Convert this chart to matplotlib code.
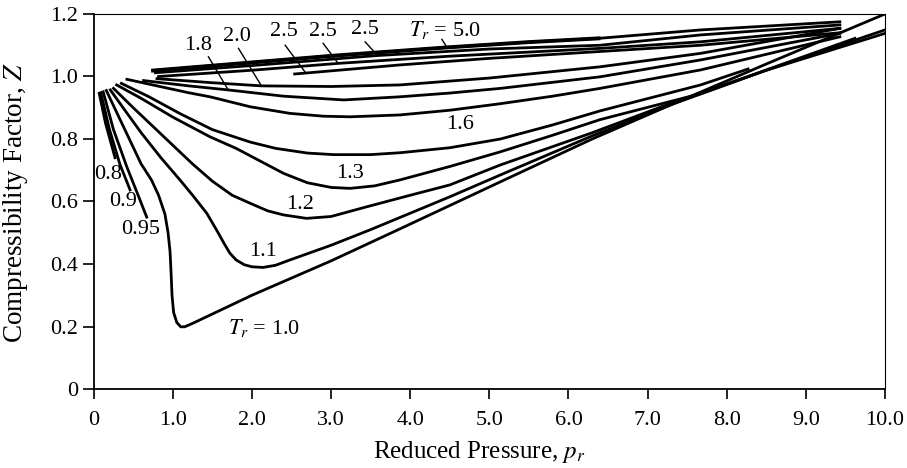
"""Generalized compressibility chart: Z vs reduced pressure for several T_r."""
import numpy as np
import matplotlib.pyplot as plt

plt.rcParams['font.family'] = ['Liberation Serif', 'DejaVu Serif']
plt.rcParams['mathtext.fontset'] = 'stix'

# digitized isotherms (reduced pressure, Z)
tr08_p = [0.07, 0.15, 0.27]
tr08_z = [0.946, 0.85, 0.74]
tr09_p = [0.09, 0.20, 0.33, 0.46]
tr09_z = [0.948, 0.83, 0.72, 0.637]
tr095_p = [0.12, 0.25, 0.42, 0.585, 0.67]
tr095_z = [0.951, 0.83, 0.71, 0.605, 0.55]
tr10_p = [0.16, 0.30, 0.45, 0.60, 0.73, 0.82, 0.90, 0.94, 0.965, 0.98, 0.99, 1.01, 1.05,
          1.10, 1.15, 1.25, 1.5, 2.0, 2.5, 3.0, 3.85, 5.14, 6.3, 7.3, 8.5, 10.0]
tr10_z = [0.955, 0.88, 0.80, 0.72, 0.669, 0.62, 0.56, 0.50, 0.44, 0.36, 0.30, 0.245, 0.213,
          0.199, 0.199, 0.21, 0.24, 0.30, 0.355, 0.41, 0.51, 0.663, 0.80, 0.91, 1.04, 1.2]
tr11_p = [0.21, 0.40, 0.60, 0.85, 1.09, 1.25, 1.43, 1.55, 1.65, 1.72, 1.80, 1.90, 2.0,
          2.14, 2.30, 2.48, 3.0, 3.5, 4.5, 5.14, 6.3, 7.3, 8.5, 10.0]
tr11_z = [0.957, 0.89, 0.82, 0.74, 0.669, 0.62, 0.562, 0.51, 0.465, 0.435, 0.413, 0.398, 0.391,
          0.389, 0.396, 0.413, 0.46, 0.51, 0.615, 0.685, 0.81, 0.91, 1.02, 1.149]
tr12_p = [0.25, 0.50, 0.75, 1.0, 1.25, 1.5, 1.75, 1.98, 2.2, 2.4, 2.69, 3.0, 3.45, 4.0,
          4.5, 5.14, 6.3, 7.3, 8.5, 10.0]
tr12_z = [0.962, 0.90, 0.84, 0.78, 0.72, 0.665, 0.62, 0.594, 0.57, 0.557, 0.546, 0.552, 0.583,
          0.62, 0.653, 0.717, 0.82, 0.915, 1.02, 1.138]
tr13_p = [0.29, 0.60, 1.0, 1.47, 1.8, 2.1, 2.4, 2.7, 3.0, 3.24, 3.55, 3.87, 4.5, 5.14,
          5.8, 6.4, 7.67, 8.6, 9.62]
tr13_z = [0.973, 0.93, 0.87, 0.807, 0.77, 0.73, 0.69, 0.66, 0.645, 0.642, 0.65, 0.669, 0.712,
          0.759, 0.812, 0.862, 0.945, 1.03, 1.122]
tr14_p = [0.35, 0.70, 1.1, 1.5, 1.98, 2.3, 2.7, 3.03, 3.5, 3.87, 4.5, 5.14, 5.8, 6.4,
          7.67, 8.27]
tr14_z = [0.978, 0.935, 0.88, 0.83, 0.79, 0.77, 0.755, 0.75, 0.75, 0.756, 0.772, 0.80,
          0.845, 0.89, 0.973, 1.024]
tr16_p = [0.42, 0.8, 1.2, 1.47, 1.98, 2.48, 2.9, 3.24, 3.87, 4.5, 5.14, 5.8, 6.4, 7.67, 9.43]
tr16_z = [0.991, 0.97, 0.948, 0.935, 0.903, 0.882, 0.873, 0.871, 0.877, 0.892, 0.913, 0.937,
          0.962, 1.021, 1.127]
tr18_p = [0.63, 1.2, 1.70, 2.4, 3.16, 3.87, 4.5, 5.14, 6.4, 7.67, 9.43]
tr18_z = [0.987, 0.97, 0.957, 0.937, 0.925, 0.935, 0.947, 0.962, 0.999, 1.053, 1.138]
tr20_p = [0.80, 1.5, 2.12, 3.0, 3.87, 5.0, 6.4, 7.67, 9.43]
tr20_z = [0.993, 0.98, 0.97, 0.968, 0.973, 0.995, 1.031, 1.074, 1.154]
tr25a_p = [2.54, 3.87, 5.0, 6.4, 7.67, 9.43]
tr25a_z = [1.008, 1.037, 1.058, 1.08, 1.10, 1.14]
tr25b_p = [0.82, 2.0, 3.09, 4.5, 6.4, 7.67, 9.43]
tr25b_z = [1.0, 1.02, 1.042, 1.065, 1.09, 1.111, 1.154]
tr25c_p = [0.78, 2.0, 3.58, 5.0, 6.4, 7.67, 9.43]
tr25c_z = [1.012, 1.035, 1.067, 1.088, 1.10, 1.133, 1.165]
tr50_p = [0.75, 2.0, 3.0, 4.46, 5.5, 6.38, 7.67, 9.43]
tr50_z = [1.019, 1.045, 1.066, 1.093, 1.11, 1.122, 1.149, 1.175]

curves = [(tr08_p, tr08_z), (tr09_p, tr09_z), (tr095_p, tr095_z), (tr10_p, tr10_z),
          (tr11_p, tr11_z), (tr12_p, tr12_z), (tr13_p, tr13_z), (tr14_p, tr14_z),
          (tr16_p, tr16_z), (tr18_p, tr18_z), (tr20_p, tr20_z), (tr25a_p, tr25a_z),
          (tr25b_p, tr25b_z), (tr25c_p, tr25c_z), (tr50_p, tr50_z)]

# labels: text, text position, optional pointer (from, to)
labels = [
    ('0.8', (0.18, 0.685), None),
    ('0.9', (0.37, 0.600), None),
    ('0.95', (0.59, 0.510), None),
    ('$T_r$ = 1.0', (2.15, 0.195), None),
    ('1.1', (2.14, 0.440), None),
    ('1.2', (2.61, 0.589), None),
    ('1.3', (3.24, 0.690), None),
    ('1.6', (4.63, 0.845), None),
    ('1.8', (1.32, 1.100), ((1.45, 1.063), (1.70, 0.957))),
    ('2.0', (1.81, 1.127), ((1.83, 1.090), (2.12, 0.970))),
    ('2.5', (2.40, 1.143), ((2.42, 1.100), (2.67, 1.015))),
    ('2.5', (2.90, 1.143), ((2.90, 1.106), (3.09, 1.042))),
    ('2.5', (3.43, 1.149), ((3.43, 1.111), (3.58, 1.069))),
    ('$T_r$ = 5.0', (4.44, 1.149), ((4.40, 1.119), (4.46, 1.095))),
]

fig = plt.figure(figsize=(9.07, 4.68), dpi=100)
ax = fig.add_axes([0.1033, 0.1688, 0.8724, 0.8013])

for p, z in curves:
    ax.plot(p, z, color='black', lw=2.0, solid_joinstyle='round')
# the T_r = 5.0 curve is drawn heavier on its left half
ax.plot(tr50_p[:6], tr50_z[:6], color='black', lw=2.8)

for txt, (tx, ty), ptr in labels:
    ax.text(tx, ty, txt, fontsize=16, ha='center', va='center')
    if ptr is not None:
        (x0, y0), (x1, y1) = ptr
        ax.plot([x0, x1], [y0, y1], color='black', lw=1.0)

ax.set_xlim(0, 10)
ax.set_ylim(0, 1.2)
ax.set_xticks(np.arange(0, 11, 1))
ax.set_xticklabels(['0'] + [f'{v:.1f}' for v in range(1, 11)])
ax.set_yticks(np.arange(0, 1.21, 0.2))
ax.set_yticklabels(['0', '0.2', '0.4', '0.6', '0.8', '1.0', '1.2'])
ax.tick_params(axis='x', direction='out', length=7, width=1.2, labelsize=16, pad=9)
ax.tick_params(axis='y', direction='out', length=8, width=1.2, labelsize=16, pad=3)
for s in ax.spines.values():
    s.set_linewidth(1.3)
ax.spines['top'].set_linewidth(0.8)
ax.spines['right'].set_linewidth(0.8)

ax.set_xlabel('Reduced Pressure, $p_r$', fontsize=18)
ax.xaxis.set_label_coords(0.487, -0.133)
ax.set_ylabel('Compressibility Factor, $Z$', fontsize=19.5)
ax.yaxis.set_label_coords(-0.080, 0.497)

fig.savefig('out.png', dpi=100, facecolor='white')
